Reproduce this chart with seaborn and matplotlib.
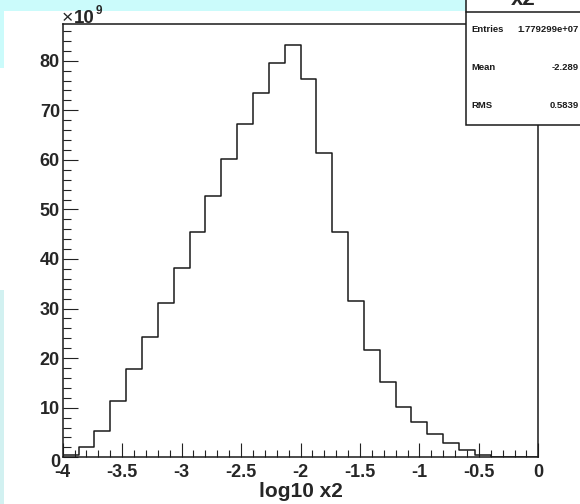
import numpy as np
import pandas as pd
import matplotlib
matplotlib.use("Agg")
import matplotlib.pyplot as plt
import matplotlib.transforms as mtransforms
import seaborn as sns
from matplotlib.patches import Rectangle
from matplotlib.lines import Line2D
from matplotlib.ticker import MultipleLocator, FuncFormatter

# ---- data (bin contents in units of 1e9) ----
x_min, x_max, n_bins = -4.0, 0.0, 30
counts = [0.5, 2.0, 5.4, 11.3, 17.8, 24.3, 31.1, 38.1, 45.4, 52.8,
          60.2, 67.3, 73.5, 79.6, 83.2, 76.3, 61.4, 45.4, 31.5, 21.6,
          15.1, 10.2, 7.1, 4.6, 2.8, 1.4, 0.4, 0.15, 0.0, 0.0]
x_label = "log10 x2"
hist_name = "x2"
stat_names = ["Entries", "Mean", "RMS"]
stat_values = ["1.779299e+07", "-2.289", "0.5839"]
y_exponent = "9"

width = (x_max - x_min) / n_bins
centers = [x_min + (i + 0.5) * width for i in range(n_bins)]
df = pd.DataFrame({"x": centers, "w": counts})

sns.set_style("ticks")
plt.rcParams["font.family"] = ["Liberation Sans", "DejaVu Sans"]
plt.rcParams["axes.unicode_minus"] = False

W, H = 580, 504
fig = plt.figure(figsize=(W / 100, H / 100), dpi=100, facecolor="white")

# background canvas bits
fig.add_artist(Rectangle((0, 1 - 11 / H), 466 / W, 11 / H, transform=fig.transFigure,
                         facecolor="#cbfbfb", edgecolor="none", zorder=-5))
fig.add_artist(Rectangle((0, 1 - 68 / H), 4 / W, 68 / H, transform=fig.transFigure,
                         facecolor="#cbfbfb", edgecolor="none", zorder=-5))
fig.add_artist(Rectangle((0, 0), 4 / W, 1 - 290 / H, transform=fig.transFigure,
                         facecolor="#d2f1f1", edgecolor="none", zorder=-5))

ax = fig.add_axes([62.7 / W, 1 - 457.3 / H, (538.3 - 62.7) / W, (457.3 - 24) / H])
ax.set_facecolor("white")

sns.histplot(data=df, x="x", weights="w", bins=n_bins, binrange=(x_min, x_max),
             element="step", fill=False, color="#1a1a1a", linewidth=1.1, ax=ax)

ax.set_xlim(x_min, x_max)
ax.set_ylim(0, 87.4)
ax.set_ylabel("")
ax.set_xlabel(x_label, fontsize=15, fontweight="bold", labelpad=1)

ax.xaxis.set_major_locator(MultipleLocator(0.5))
ax.xaxis.set_minor_locator(MultipleLocator(0.1))
ax.yaxis.set_major_locator(MultipleLocator(10))
ax.yaxis.set_minor_locator(MultipleLocator(2))
ax.xaxis.set_major_formatter(FuncFormatter(lambda v, p: "%g" % v))
ax.yaxis.set_major_formatter(FuncFormatter(lambda v, p: "%g" % v))

ax.tick_params(axis="x", which="major", direction="in", length=10, width=0.8,
               labelsize=13, pad=4.5, color="#222222")
ax.tick_params(axis="x", which="minor", direction="in", length=5, width=0.8, color="#222222")
ax.tick_params(axis="y", which="major", direction="in", length=10.8, width=0.8,
               labelsize=13, pad=2, color="#222222")
ax.tick_params(axis="y", which="minor", direction="in", length=5.8, width=0.8, color="#222222")
for lab in ax.get_xticklabels() + ax.get_yticklabels():
    lab.set_fontweight("bold")
for s in ax.spines.values():
    s.set_visible(True)
    s.set_linewidth(1.1)
    s.set_color("#1a1a1a")

# ROOT draws the y "0" label slightly lower
fig.canvas.draw()
shift = mtransforms.ScaledTranslation(0, -3 / 100, fig.dpi_scale_trans)
for lab in ax.get_yticklabels():
    if lab.get_text() == "0":
        lab.set_transform(lab.get_transform() + shift)

# exponent label
fig.text(62 / W, 1 - 23.3 / H, "\u00d7", fontsize=14, fontweight="normal",
         ha="left", va="baseline")
fig.text(74 / W, 1 - 23.3 / H, "10", fontsize=13.5, fontweight="bold",
         ha="left", va="baseline")
fig.text(96 / W, 1 - 14 / H, y_exponent, fontsize=8.5, fontweight="bold",
         ha="left", va="baseline")

# stats box
bx0, by_bottom = 466 / W, 1 - 124.7 / H
fig.add_artist(Rectangle((bx0, by_bottom), 1.05 - bx0, 1.05 - by_bottom,
                         transform=fig.transFigure, facecolor="white",
                         edgecolor="#1a1a1a", linewidth=1.1, zorder=5))
fig.add_artist(Line2D([bx0, 1.0], [1 - 11.7 / H, 1 - 11.7 / H], transform=fig.transFigure,
                      color="#1a1a1a", linewidth=1.1, zorder=6))
fig.text(523 / W, 1 - 5 / H, hist_name, fontsize=16, fontweight="bold",
         ha="center", va="baseline", zorder=7)
ys = [30, 67.7, 106]
for name, val, yy in zip(stat_names, stat_values, ys):
    fig.text(471.7 / W, 1 - yy / H, name, fontsize=6.8, fontweight="bold",
             ha="left", va="center", zorder=7, color="#1a1a1a")
    fig.text(579 / W, 1 - yy / H, val, fontsize=6.8, fontweight="bold",
             ha="right", va="center", zorder=7, color="#1a1a1a")

fig.savefig("out.png", dpi=100, facecolor="white")
